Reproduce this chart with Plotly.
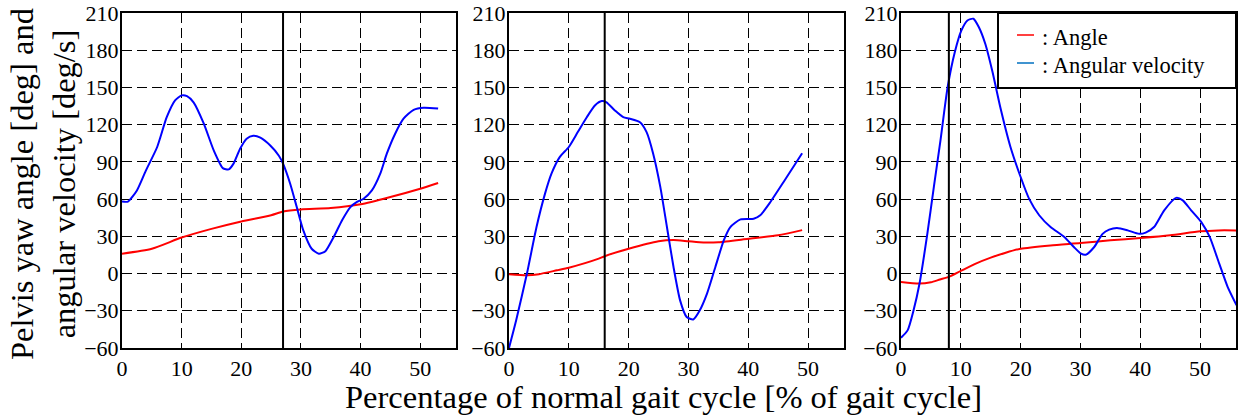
import plotly.graph_objects as go

# ---------------- data ----------------
p1_vel_x = [0, 1, 2.5, 4, 5.9, 7.5, 8.9, 10, 10.9, 12, 13.7, 15.4, 16.9, 17.9, 18.7, 19.8, 20.9, 22, 23.2, 24.9,
            26.3, 27, 28.2, 29.3, 30.4, 31.8, 33, 34.1, 35.5, 36.9, 38.3, 39.4, 40.5, 41.9, 43.3, 44.4, 45.8, 47.2,
            48.9, 50.6, 53]
p1_vel = [58, 58, 67, 83, 102, 126, 139.6, 143.6, 143, 138, 121, 99, 85, 84, 88.6, 100.6, 108.7, 111, 109.5, 103,
          95, 88.6, 72.4, 53.6, 34.8, 20, 16, 18, 29.5, 43, 53.6, 57.7, 60.3, 67, 80.5, 96.6, 112.7, 124.8,
          132, 133.7, 133]
p1_ang_x = [0, 5, 10, 15, 20, 25, 27, 30, 35, 40, 45, 50, 53]
p1_ang = [16, 20, 29, 36, 42, 47, 50, 51.7, 52.8, 55.8, 61.7, 68.4, 73]

p2_vel_x = [0, 1.2, 3, 4.6, 6, 7.1, 8.5, 10, 11.5, 13, 14.4, 15.5, 16.3, 17.7, 19.1, 20.2, 21.9, 23, 24.1, 25.3,
            26.4, 27.5, 28.6, 29.7, 30.8, 31.9, 33.1, 34.5, 35.9, 37, 38.7, 40.9, 42, 43.7, 45.9, 49]
p2_vel = [-60, -37.7, 0, 37.5, 64, 80.5, 94, 102, 114, 126, 135.6, 139, 138, 131.5, 126, 124.8, 122, 114, 96.6, 69.7,
          37.5, 5.3, -21.6, -35, -37, -29.6, -16.2, 5.3, 26.8, 37.5, 43.7, 44.2, 47, 57.7, 73.8, 97]
p2_ang_x = [0, 3, 5, 8, 10, 15, 16, 20, 25, 27.5, 30, 32.5, 35, 40, 45, 49]
p2_ang = [-0.5, -1.4, -0.5, 2.6, 4.7, 12, 14, 20, 26, 27, 26, 25, 25.2, 28, 30.8, 35]

p3_vel_x = [0, 1.1, 2.1, 3.1, 4.4, 5.5, 6.6, 7.8, 9, 10.1, 11.1, 12.1, 13, 14.1, 15.3, 16.6, 18.3, 20, 21.4, 23.1,
            25, 27.3, 28.9, 30.1, 30.9, 32.3, 33.7, 34.8, 36.1, 37.9, 39.8, 40.9, 42.3, 44, 46, 47.1, 48.5, 50.2,
            51.6, 53.2, 54.6, 56.1]
p3_vel = [-51.7, -45.8, -29.6, -8, 32, 70, 107.4, 150.4, 178.6, 196, 204, 205.4, 198.7, 185, 162.4, 134, 102, 77.8,
          60.4, 47, 37.5, 29.5, 21.4, 16, 15.2, 21.4, 32, 35.4, 36.7, 34.8, 32, 33, 37.5, 51, 61, 59, 51, 41.5,
          29.5, 8, -10.7, -25.6]
p3_ang_x = [0, 3, 5, 6.5, 8, 10, 12.5, 15, 17.5, 20, 25, 30, 35, 40, 45, 50, 53, 56]
p3_ang = [-6.7, -8, -7, -4.8, -2.7, 2.1, 8, 12.8, 16.8, 20, 22.7, 24.6, 26.8, 28.6, 30.8, 34, 34.8, 34.8]

event_x = [27, 16, 8]

x_ticks = [0, 10, 20, 30, 40, 50]
y_ticks = [-60, -30, 0, 30, 60, 90, 120, 150, 180, 210]

legend_labels = [": Angle", ": Angular velocity"]
legend_colors = ["#FF0000", "#0070C0"]

x_title = "Percentage of normal gait cycle [% of gait cycle]"
y_title = "Pelvis yaw angle [deg] and<br>angular velocity [deg/s]"

# ---------------- figure ----------------
W, H = 1239, 417
FONT = "Liberation Serif"
RED = "#FF0000"
BLUE = "#0000FF"

panels = [
    (p1_vel_x, p1_vel, p1_ang_x, p1_ang),
    (p2_vel_x, p2_vel, p2_ang_x, p2_ang),
    (p3_vel_x, p3_vel, p3_ang_x, p3_ang),
]
x_px = [(122, 456), (509, 844), (901, 1236)]
y_dom = [1 - 348 / H, 1 - 13 / H]

fig = go.Figure()
layout = dict(
    template="none",
    width=W, height=H,
    margin=dict(l=0, r=0, t=0, b=0, pad=0),
    paper_bgcolor="white", plot_bgcolor="white",
    showlegend=False,
    font=dict(family=FONT, color="black", size=22),
)

shapes = []
for i, (vx, vy, ax, ay) in enumerate(panels):
    n = "" if i == 0 else str(i + 1)
    fig.add_trace(go.Scatter(x=ax, y=ay, mode="lines", line=dict(color=RED, width=2, shape="spline", smoothing=0.6),
                             xaxis="x" + n, yaxis="y" + n, name="Angle"))
    fig.add_trace(go.Scatter(x=vx, y=vy, mode="lines", line=dict(color=BLUE, width=2, shape="spline", smoothing=0.6),
                             xaxis="x" + n, yaxis="y" + n, name="Angular velocity"))
    layout["xaxis" + n] = dict(domain=[x_px[i][0] / W, x_px[i][1] / W], range=[0, 56],
                               tickvals=x_ticks, anchor="y" + n)
    layout["yaxis" + n] = dict(domain=y_dom, range=[-60, 210], tickvals=y_ticks, anchor="x" + n)
    shapes.append(dict(type="line", xref="x" + n, yref="y" + n, x0=event_x[i], x1=event_x[i],
                       y0=-60, y1=210, line=dict(color="black", width=2)))

# legend box (custom, in third panel)
lx0, lx1, ly0, ly1 = 998, 1236, 13, 88
shapes.append(dict(type="rect", xref="paper", yref="paper", x0=lx0 / W, x1=lx1 / W,
                   y0=1 - ly1 / H, y1=1 - ly0 / H, fillcolor="white",
                   line=dict(color="black", width=2), layer="above"))
annotations = []
for k, (lab, col) in enumerate(zip(legend_labels, legend_colors)):
    yy = 35 + k * 28
    shapes.append(dict(type="line", xref="paper", yref="paper", x0=1017 / W, x1=1034 / W,
                       y0=1 - yy / H, y1=1 - yy / H, line=dict(color=col, width=1.5), layer="above"))
    annotations.append(dict(xref="paper", yref="paper", x=1040 / W, y=1 - (yy + 2) / H, text=lab,
                            showarrow=False, xanchor="left", yanchor="middle",
                            font=dict(family=FONT, size=22.5, color="black")))

annotations.append(dict(xref="paper", yref="paper", x=663 / W, y=1 - 397 / H, text=x_title,
                        showarrow=False, xanchor="center", yanchor="middle",
                        font=dict(family=FONT, size=32.5, color="black")))
annotations.append(dict(xref="paper", yref="paper", x=43 / W, y=1 - 184 / H, text=y_title,
                        showarrow=False, xanchor="center", yanchor="middle", textangle=-90,
                        font=dict(family=FONT, size=32.5, color="black")))

layout["shapes"] = shapes
layout["annotations"] = annotations
fig.update_layout(**layout)
fig.update_xaxes(showline=True, linecolor="black", linewidth=2, mirror=True,
                 showgrid=True, gridcolor="black", gridwidth=1, griddash="10px,5px",
                 zeroline=False, ticks="", automargin=False,
                 tickfont=dict(family=FONT, size=22, color="black"))
fig.update_yaxes(showline=True, linecolor="black", linewidth=2, mirror=True,
                 showgrid=True, gridcolor="black", gridwidth=1, griddash="10px,5px",
                 zeroline=False, ticks="", automargin=False, ticklabelstandoff=-3,
                 tickfont=dict(family=FONT, size=22, color="black"))
fig.write_html("out.html", config={"displayModeBar": False},
               post_script="document.body.style.margin='0';document.body.style.padding='0';")
